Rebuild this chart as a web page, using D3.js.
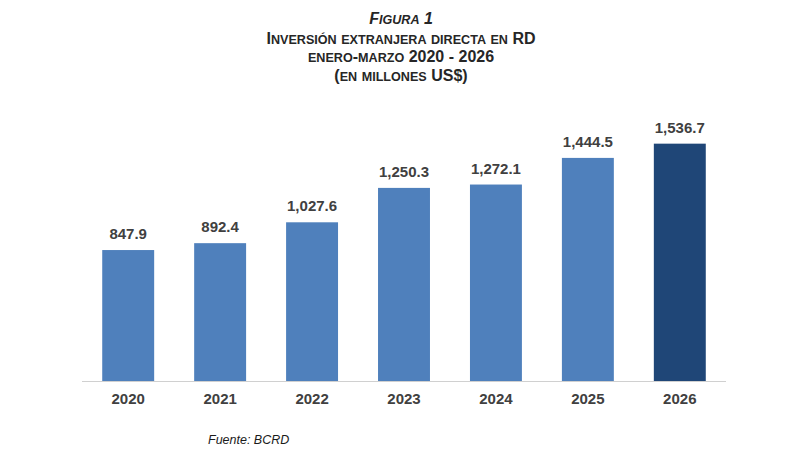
<!DOCTYPE html>
<html>
<head>
<meta charset="utf-8">
<script src="https://cdn.jsdelivr.net/npm/d3@7"></script>
<style>
  body { margin: 0; background: #fff; }
  svg { display: block; font-family: "Liberation Sans", Arial, sans-serif; }
  .title { font-weight: bold; fill: #262626; text-anchor: middle; }
  .value, .year { font-weight: bold; fill: #404040; text-anchor: middle; font-size: 15px; }
</style>
</head>
<body>
<svg id="chart" width="800" height="457"></svg>
<script>
const years = ["2020", "2021", "2022", "2023", "2024", "2025", "2026"];
const values = [847.9, 892.4, 1027.6, 1250.3, 1272.1, 1444.5, 1536.7];
const value_labels = ["847.9", "892.4", "1,027.6", "1,250.3", "1,272.1", "1,444.5", "1,536.7"];
const title_lines = ["Figura 1", "Inversión extranjera directa en RD", "enero-marzo 2020 - 2026", "(en millones US$)"];
const source = "Fuente: BCRD";

const svg = d3.select("#chart");

const x = d3.scaleBand()
  .domain(years)
  .range([82, 726])
  .paddingInner(0.435)
  .paddingOuter(0.22);

const y = d3.scaleLinear()
  .domain([0, 1800])
  .range([381, 103]);

// titulo en versalitas: minusculas -> mayusculas mas pequenas
const title_y = [24, 44, 62, 81];
const big = 16, small = 12.6;
svg.selectAll("text.title")
  .data(title_lines)
  .join("text")
  .classed("title", true)
  .attr("x", 401)
  .attr("y", (d, i) => title_y[i])
  .style("font-style", (d, i) => i === 0 ? "italic" : null)
  .each(function(d) {
    const runs = [];
    for (const ch of d) {
      const low = ch !== ch.toUpperCase();
      const last = runs[runs.length - 1];
      if (last && last.low === low) last.t += ch;
      else runs.push({ t: ch, low: low });
    }
    d3.select(this).selectAll("tspan")
      .data(runs)
      .join("tspan")
      .style("font-size", r => (r.low ? small : big) + "px")
      .text(r => r.low ? r.t.toUpperCase() : r.t);
  });

// barras
svg.append("g")
  .selectAll("rect")
  .data(values)
  .join("rect")
  .attr("x", (d, i) => x(years[i]))
  .attr("width", x.bandwidth())
  .attr("y", d => y(d))
  .attr("height", d => y(0) - y(d))
  .attr("fill", (d, i) => i === years.length - 1 ? "#1f4677" : "#4f80bc");

// etiquetas de valores
svg.append("g")
  .selectAll("text")
  .data(values)
  .join("text")
  .classed("value", true)
  .attr("x", (d, i) => x(years[i]) + x.bandwidth() / 2)
  .attr("y", d => y(d) - 11)
  .text((d, i) => value_labels[i]);

// eje x
const axis = svg.append("g")
  .attr("transform", `translate(0,${y(0)})`)
  .call(d3.axisBottom(x).tickSize(0).tickPadding(12).tickSizeOuter(0));
axis.select(".domain").attr("stroke", "#d0d0d0").attr("d", "M82,0.5H726");
axis.selectAll(".tick text")
  .attr("class", "year")
  .attr("font-family", null)
  .attr("font-size", null);

// fuente
svg.append("text")
  .attr("x", 208)
  .attr("y", 444)
  .style("font-size", "12.5px")
  .style("font-style", "italic")
  .attr("fill", "#1a1a1a")
  .text(source);
</script>
</body>
</html>
